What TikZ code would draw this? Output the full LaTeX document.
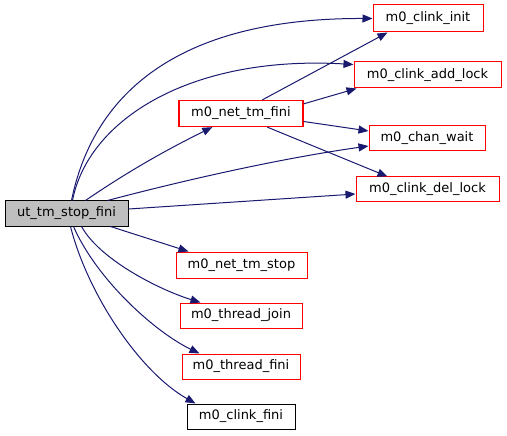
\documentclass[tikz,border=0pt]{standalone}
\usepackage{fontspec}
\setmainfont{DejaVu Sans}
\usetikzlibrary{arrows.meta,calc}
\definecolor{edgeblue}{HTML}{191970}
\definecolor{boxred}{HTML}{FF0000}
\definecolor{boxgray}{HTML}{BFBFBF}
\tikzset{
  fn/.style={draw=boxred, fill=white, line width=1pt, inner sep=0pt, minimum height=25pt,
    font=\fontsize{13}{15}\selectfont},
  fnroot/.style={fn, draw=black, fill=boxgray},
  fnblack/.style={fn, draw=black},
  call/.style={draw=edgeblue, line width=1pt, -{Triangle[length=10pt,width=8pt]}},
}
\begin{document}
\begin{tikzpicture}[x=1pt,y=-1pt]
\useasboundingbox (0,0) rectangle (507,436);
\node[fnroot, minimum width=123pt] (ut) at (66.5,213.5) {ut\_tm\_stop\_fini};
\node[fn, minimum width=110pt, minimum height=27pt] (cinit) at (428,18.5) {m0\_clink\_init};
\node[fn, minimum width=147pt, minimum height=26pt] (cadd) at (427.5,75) {m0\_clink\_add\_lock};
\node[fn, draw=red, line width=1.3pt, minimum width=124pt, minimum height=26pt] (netfini) at (241,113.5) {m0\_net\_tm\_fini};
\node[fn, minimum width=116pt] (cw) at (427,138.5) {m0\_chan\_wait};
\node[fn, minimum width=143pt] (cdel) at (427.5,189.5) {m0\_clink\_del\_lock};
\node[fn, minimum width=131pt, minimum height=26pt] (nts) at (241.5,265) {m0\_net\_tm\_stop};
\node[fn, minimum width=122pt] (tj) at (241,315.5) {m0\_thread\_join};
\node[fn, minimum width=118pt] (tf) at (241,366.5) {m0\_thread\_fini};
\node[fnblack, minimum width=108pt] (cf) at (241,416.5) {m0\_clink\_fini};

\draw[call] ($(ut.north west)+(67,0)$) .. controls (92,100) and (170,18) .. (cinit.west);
\draw[call] ($(ut.north west)+(68,0)$) .. controls (88,120) and (190,55) .. ($(cadd.north west)+(0,3)$);
\draw[call] ($(ut.north west)+(81,0)$) .. controls (130,170) and (170,148) .. ($(netfini.south west)+(34,0)$);
\draw[call] ($(ut.north west)+(103,0)$) .. controls (170,184) and (270,160) .. ($(cw.west)+(0,7.5)$);
\draw[call] ($(ut.east)+(0,-4.5)$) -- ($(cdel.west)+(0,4.5)$);

\draw[call] ($(netfini.north west)+(84,0)$) -- ($(cinit.south west)+(15,0)$);
\draw[call] ($(netfini.north east)+(0,4)$) -- ($(cadd.south west)+(3,0)$);
\draw[call] ($(netfini.east)+(0,8)$) -- ($(cw.west)+(0,-7.5)$);
\draw[call] ($(netfini.south west)+(89,0)$) -- ($(cdel.north west)+(32,0)$);

\draw[call] ($(ut.south west)+(106,0)$) -- ($(nts.north west)+(13,0)$);
\draw[call] ($(ut.south west)+(77,0)$) .. controls (100,260) and (160,290) .. ($(tj.north west)+(21,0)$);
\draw[call] ($(ut.south west)+(69,0)$) .. controls (97,280) and (155,332) .. ($(tf.north west)+(18,0)$);
\draw[call] ($(ut.south west)+(66,0)$) .. controls (88,295) and (140,372) .. ($(cf.north west)+(9,0)$);
\end{tikzpicture}
\end{document}
